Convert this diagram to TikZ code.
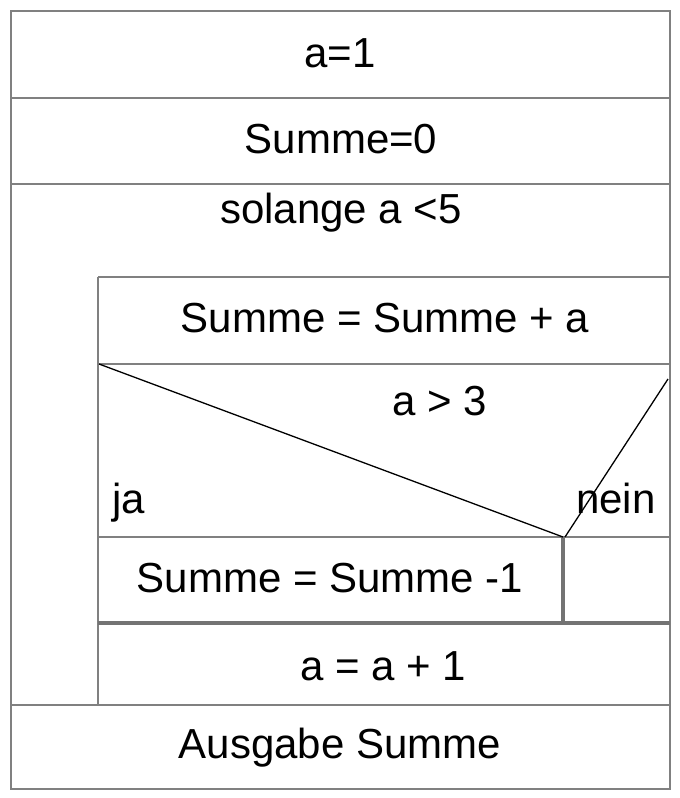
\documentclass[tikz,border=0pt]{standalone}
\usepackage{fontspec}
\setmainfont{Liberation Sans}
\begin{document}
\begin{tikzpicture}[x=1pt,y=-1pt,
  frame/.style={draw=black!50,line width=2pt},
  heavy/.style={draw=black!55,line width=3.5pt},
  diag/.style={draw=black,line width=1.3pt},
  lbl/.style={inner sep=0pt,anchor=base,font=\fontsize{42}{50}\selectfont}]
\useasboundingbox (0,0) rectangle (680,798);
\fill[white] (0,0) rectangle (680,798);
% outer frame and rows
\draw[frame] (11,11) rectangle (670,789);
\draw[frame] (11,98) -- (670,98);
\draw[frame] (11,184) -- (670,184);
% loop body
\draw[frame] (98,277) -- (670,277);
\draw[frame] (98,277) -- (98,705);
\draw[frame] (98,364) -- (670,364);
\draw[frame] (98,537) -- (670,537);
\draw[frame] (11,705) -- (670,705);
\draw[heavy] (98,623) -- (670,623);
\draw[heavy] (563,537) -- (563,623);
% condition diagonals
\coordinate (dl) at (99,364);
\coordinate (dm) at (563,537);
\coordinate (dr) at (668,379);
\draw[diag] (dl) -- (dm);
\draw[diag] (dr) -- (565,537);
% texts
\node[lbl] (t1) at (340,67) {a=1};
\node[lbl] (t2) at (341,153) {Summe=0};
\node[lbl] (t3) at (341,223) {solange a <5};
\node[lbl] (t4) at (385,332) {Summe = Summe + a};
\node[lbl] (t5) at (440,415) {a > 3};
\node[lbl,anchor=base west] (t6) at (112,513) {ja};
\node[lbl,anchor=base west] (t7) at (576,513) {nein};
\node[lbl] (t8) at (330,592) {Summe = Summe -1};
\node[lbl] (t9) at (383,680) {a = a + 1};
\node[lbl] (t10) at (340,758) {Ausgabe Summe};
\end{tikzpicture}
\end{document}
